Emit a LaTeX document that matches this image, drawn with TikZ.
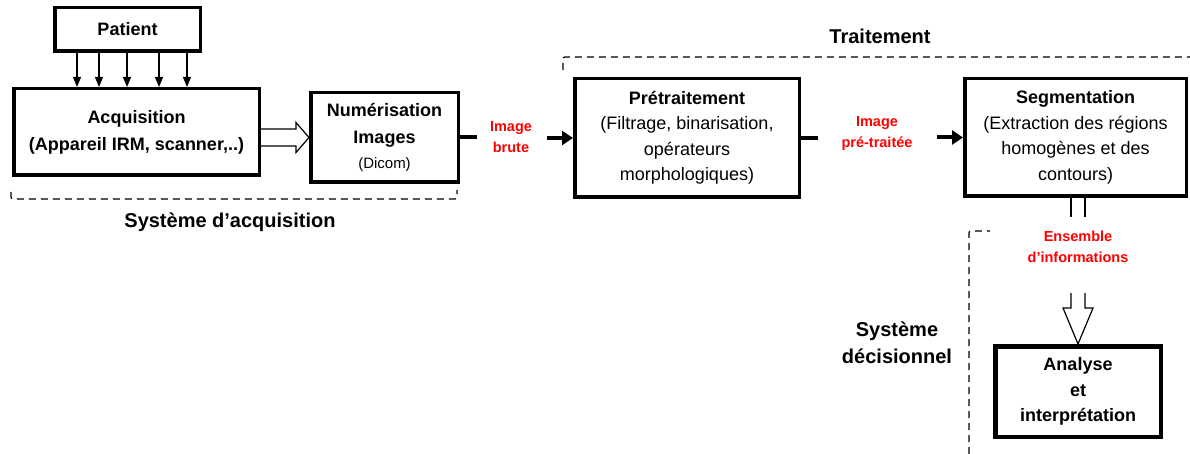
\documentclass[tikz,border=0pt]{standalone}
\usepackage{fontspec}
\setmainfont{Liberation Sans}
\usetikzlibrary{arrows.meta,calc}
\begin{document}
\begin{tikzpicture}[x=1pt,y=-1pt,
  box/.style={draw, line width=3.5pt, inner sep=0pt, align=center,
    font=\fontsize{18}{25.5}\selectfont},
  thinarrow/.style={line width=1.1pt, -{Triangle[length=10pt,width=8pt]}},
  fatline/.style={line width=4pt},
  fatarrow/.style={line width=4pt, -{Triangle[length=11pt,width=14pt]}},
  redlbl/.style={text=red, align=center, font=\fontsize{14.5}{21}\selectfont\bfseries},
  grplbl/.style={align=center, font=\fontsize{20}{27}\selectfont\bfseries},
  frame/.style={line width=1.3pt, dash pattern=on 7pt off 5pt},
  blockarrow/.style={line width=1.2pt}
]
\useasboundingbox (0,0) rectangle (1190,454);

% boxes
\node[box, minimum width=145.5, minimum height=43.5] (patient) at (127.5,29.5) {\textbf{Patient}};
\node[box, minimum width=245.5, minimum height=86.5] (acq) at (136.5,132)
  {\textbf{Acquisition}\\[1.5pt]\textbf{(Appareil IRM, scanner,..)}};
\node[box, minimum width=147.5, minimum height=89.5] (num) at (384.5,137.5)
  {\textbf{Numérisation}\\[1.5pt]\textbf{Images}\\{\fontsize{15}{20}\selectfont (Dicom)}};
\node[box, minimum width=224.5, minimum height=118.5] (pre) at (687,138)
  {\textbf{Prétraitement}\\(Filtrage, binarisation,\\opérateurs\\morphologiques)};
\node[box, minimum width=221.5, minimum height=117.5] (seg) at (1075.5,137.5)
  {\textbf{Segmentation}\\(Extraction des régions\\homogènes et des\\contours)};
\node[box, line width=4.5pt, minimum width=165.5, minimum height=90.5] (ana) at (1078,391.5)
  {\textbf{Analyse}\\\textbf{et}\\\textbf{interprétation}};

% labels
\node[redlbl] (lb1) at (511,137.5) {Image\\brute};
\node[redlbl] (lb2) at (877,134) {Image\\pré-traitée};
\node[redlbl] (lb3) at (1078,247) {Ensemble\\d’informations};
\node[grplbl] (g1) at (230,222) {Système d’acquisition};
\node[grplbl] (g2) at (880,36) {Traitement};
\node[grplbl] (g3) at (897,343) {Système\\décisionnel};

% patient -> acquisition
\foreach \x in {77,99,127,159,187}
  \draw[thinarrow] ([xshift=\x-127.5]patient.south) -- ([xshift=\x-136.5]acq.north);

% acquisition => numerisation (hollow block arrow)
\coordinate (s1) at (acq.east |- num.west);
\draw[blockarrow] ($(s1)+(0,-8.5)$) -- ($(num.west)+(-13,-8.5)$) -- ($(num.west)+(-13,-15)$)
  -- (num.west) -- ($(num.west)+(-13,15)$) -- ($(num.west)+(-13,8.5)$) -- ($(s1)+(0,8.5)$);

% numerisation -> pretraitement -> segmentation
\draw[fatline] (num.east) -- ++(17,0);
\draw[fatarrow] ($(pre.west)+(-26,0)$) -- (pre.west);
\draw[fatline] (pre.east) -- ++(17,0);
\draw[fatarrow] ($(seg.west)+(-26,0)$) -- (seg.west);

% segmentation => analyse
\coordinate (t) at (seg.south -| ana.north);
\draw[blockarrow] ($(t)+(-7,0)$) -- ++(0,19);
\draw[blockarrow] ($(t)+(7,0)$) -- ++(0,19);
\draw[blockarrow] ($(ana.north)+(-7,-51)$) -- ++(0,15) -- ++(-8,0) -- (ana.north)
  -- ($(ana.north)+(15,-36)$) -- ++(-8,0) -- ++(0,-15);

% dashed frames
\draw[frame, rounded corners=2pt] (11,192) -- (11,199) -- (457,199) -- (457,190);
\draw[frame, rounded corners=2pt] (563,70) -- (563,57) -- (1190,57);
\draw[frame, rounded corners=2pt] (969,454) -- (969,231) -- (990,231);
\end{tikzpicture}
\end{document}
